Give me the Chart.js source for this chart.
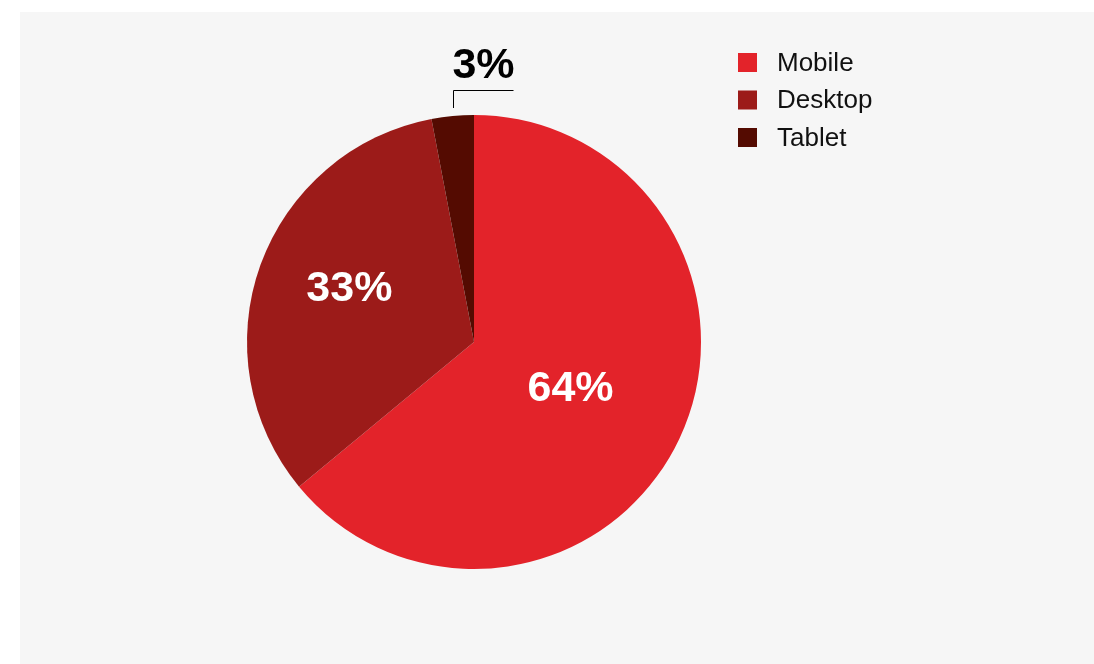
<!DOCTYPE html>
<html>
<head>
<meta charset="utf-8">
<script src="https://cdn.jsdelivr.net/npm/chart.js@4.4.1/dist/chart.umd.min.js"></script>
<style>
    html, body { margin: 0; padding: 0; background: #ffffff; }
    #wrap {
        position: absolute;
        left: 20px;
        top: 12px;
        width: 1074px;
        height: 652px;
        background: #f6f6f6;
    }
</style>
</head>
<body>
<div id="wrap"><canvas id="myChart"></canvas></div>
<script>
const labels = ['Mobile', 'Desktop', 'Tablet'];
const shares = [64, 33, 3];
const colors = ['#e3232a', '#9c1b19', '#540b01'];

const FONT = '"Liberation Sans", Arial, Helvetica, sans-serif';

// percentage labels: inside for big slices, with a leader line for the tiny one
const sliceLabels = {
    id: 'sliceLabels',
    afterDatasetsDraw(chart) {
        const ctx = chart.ctx;
        const arcs = chart.getDatasetMeta(0).data;
        // [fraction of radius, angle shift in degrees]
        const inside = [[0.47, 0], [0.6, 4]];
        ctx.save();
        ctx.textAlign = 'center';
        ctx.textBaseline = 'middle';
        arcs.forEach(function(arc, i) {
            const mid = (arc.startAngle + arc.endAngle) / 2;
            const text = shares[i] + '%';
            if (i < inside.length) {
                const a = mid + inside[i][1] * Math.PI / 180;
                const r = arc.outerRadius * inside[i][0];
                ctx.font = 'bold 43px ' + FONT;
                ctx.fillStyle = '#ffffff';
                ctx.fillText(text, arc.x + Math.cos(a) * r, arc.y + Math.sin(a) * r + 2);
            } else {
                const px = Math.round(arc.x + Math.cos(mid) * arc.outerRadius) + 0.5;
                const py = arc.y + Math.sin(mid) * arc.outerRadius;
                const top = Math.round(py - 26) + 0.5;
                ctx.strokeStyle = '#000000';
                ctx.lineWidth = 1;
                ctx.beginPath();
                ctx.moveTo(px, py - 8);
                ctx.lineTo(px, top);
                ctx.lineTo(px + 60, top);
                ctx.stroke();
                ctx.font = 'bold 43px ' + FONT;
                ctx.fillStyle = '#000000';
                ctx.fillText(text, px + 30, top - 24);
            }
        });
        ctx.restore();
    }
};

// simple legend at the top right
const sideLegend = {
    id: 'sideLegend',
    afterDraw(chart) {
        const ctx = chart.ctx;
        ctx.save();
        ctx.font = '26px ' + FONT;
        ctx.textBaseline = 'middle';
        ctx.textAlign = 'left';
        for (let i = 0; i < labels.length; ++i) {
            const cy = 50.5 + i * 37.5;
            ctx.fillStyle = colors[i];
            ctx.fillRect(718, cy - 9.5, 19, 19);
            ctx.fillStyle = '#111111';
            ctx.fillText(labels[i], 757, cy + 1);
        }
        ctx.restore();
    }
};

const data = {
    labels: labels,
    datasets: [{
        data: shares,
        backgroundColor: colors,
        borderWidth: 0,
        hoverOffset: 0
    }]
};

const config = {
    type: 'pie',
    data: data,
    options: {
        responsive: true,
        maintainAspectRatio: false,
        animation: false,
        layout: {
            padding: { left: 227, top: 103, right: 393, bottom: 95 }
        },
        plugins: {
            legend: { display: false },
            tooltip: { enabled: false }
        }
    },
    plugins: [sliceLabels, sideLegend]
};

const myChart = new Chart(
    document.getElementById('myChart'),
    config
);
</script>
</body>
</html>
